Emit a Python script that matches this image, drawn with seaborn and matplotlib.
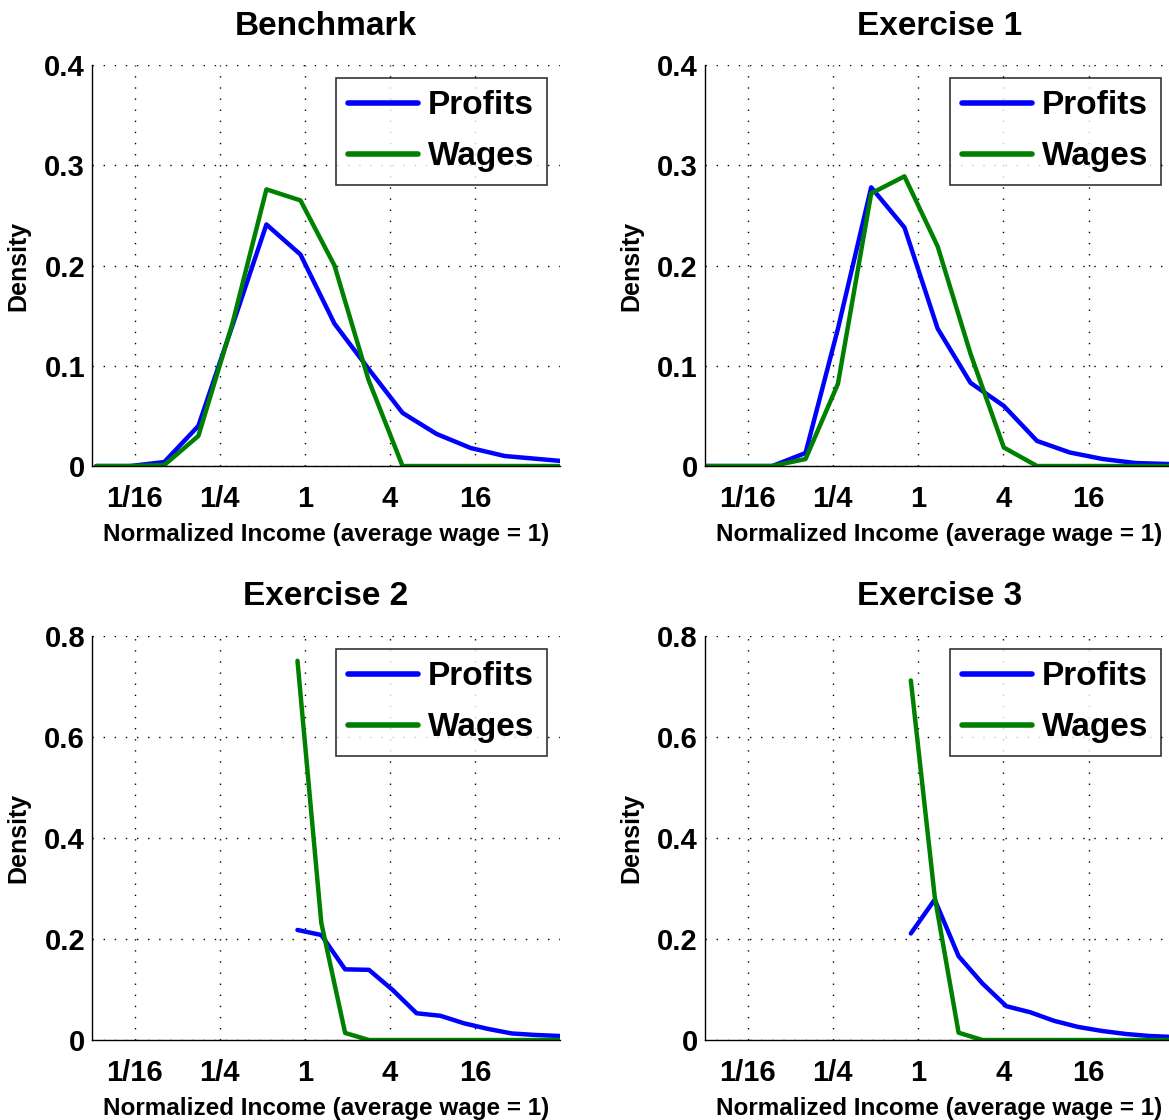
import numpy as np
import matplotlib
matplotlib.use("Agg")
import matplotlib.pyplot as plt
import seaborn as sns
from matplotlib.ticker import NullLocator

# ---------------------------------------------------------------
# Data (x read as log2 of normalized income)
# ---------------------------------------------------------------
bench_log2 = [-4.9, -4.1, -3.3, -2.5, -1.7, -0.9, -0.1, 0.7, 1.5, 2.3, 3.1, 3.9, 4.7, 5.5, 6.3]
bench_profits = [0.0, 0.0, 0.004, 0.040, 0.140, 0.241, 0.211, 0.142, 0.097, 0.053, 0.032, 0.018, 0.010, 0.007, 0.004]
bench_wages = [0.0, 0.0, 0.001, 0.030, 0.142, 0.276, 0.265, 0.200, 0.086, 0.0, 0.0, 0.0, 0.0, 0.0, 0.0]

ex1_log2 = [-4.98, -4.2, -3.42, -2.64, -1.88, -1.1, -0.32, 0.46, 1.23, 2.01, 2.79, 3.56, 4.33, 5.1, 5.88, 6.66]
ex1_profits = [0.0, 0.0, 0.0, 0.013, 0.137, 0.278, 0.238, 0.137, 0.083, 0.060, 0.025, 0.0135, 0.007, 0.003, 0.002, 0.001]
ex1_wages = [0.0, 0.0, 0.0, 0.007, 0.082, 0.272, 0.289, 0.219, 0.112, 0.0185, 0.0, 0.0, 0.0, 0.0, 0.0, 0.0]

ex2_log2 = [-0.17, 0.39, 0.95, 1.51, 2.07, 2.63, 3.19, 3.75, 4.31, 4.87, 5.43, 5.99]
ex2_profits = [0.218, 0.208, 0.140, 0.139, 0.099, 0.053, 0.048, 0.033, 0.022, 0.013, 0.010, 0.008]
ex2_wages = [0.751, 0.232, 0.014, 0.0, 0.0, 0.0, 0.0, 0.0, 0.0, 0.0, 0.0, 0.0]

ex3_log2 = [-0.17, 0.39, 0.95, 1.51, 2.07, 2.63, 3.19, 3.75, 4.31, 4.87, 5.43, 5.99]
ex3_profits = [0.211, 0.278, 0.166, 0.112, 0.067, 0.055, 0.038, 0.026, 0.018, 0.012, 0.008, 0.006]
ex3_wages = [0.712, 0.284, 0.0145, 0.0, 0.0, 0.0, 0.0, 0.0, 0.0, 0.0, 0.0, 0.0]

titles = ["Benchmark", "Exercise 1", "Exercise 2", "Exercise 3"]
x_ticks = [1 / 16, 1 / 4, 1, 4, 16]
x_tick_labels = ["1/16", "1/4", "1", "4", "16"]
y_ticks_top = [0, 0.1, 0.2, 0.3, 0.4]
y_labels_top = ["0", "0.1", "0.2", "0.3", "0.4"]
y_ticks_bottom = [0, 0.2, 0.4, 0.6, 0.8]
y_labels_bottom = ["0", "0.2", "0.4", "0.6", "0.8"]

PROFIT_COLOR = "#0000FF"
WAGE_COLOR = "#008000"

# ---------------------------------------------------------------
# Style
# ---------------------------------------------------------------
sns.set_style("white")
plt.rcParams.update({
    "font.family": ["Liberation Sans", "DejaVu Sans"],
    "font.weight": "bold",
    "axes.labelweight": "bold",
    "axes.titleweight": "bold",
    "text.color": "black",
    "axes.labelcolor": "black",
    "xtick.color": "black",
    "ytick.color": "black",
})

fig = plt.figure(figsize=(11.69, 11.2), dpi=100)
positions = [
    [0.0787, 0.5839, 0.4003, 0.3580],
    [0.6030, 0.5839, 0.4012, 0.3580],
    [0.0787, 0.0714, 0.4003, 0.3607],
    [0.6030, 0.0714, 0.4012, 0.3607],
]
panels = [
    (bench_log2, bench_profits, bench_wages),
    (ex1_log2, ex1_profits, ex1_wages),
    (ex2_log2, ex2_profits, ex2_wages),
    (ex3_log2, ex3_profits, ex3_wages),
]

for i, (pos, (xl, prof, wage)) in enumerate(zip(positions, panels)):
    ax = fig.add_axes(pos)
    income = 2.0 ** np.array(xl)
    sns.lineplot(x=income, y=prof, ax=ax, color=PROFIT_COLOR, linewidth=3.2,
                 label="Profits", sort=False, estimator=None)
    sns.lineplot(x=income, y=wage, ax=ax, color=WAGE_COLOR, linewidth=3.2,
                 label="Wages", sort=False, estimator=None)

    ax.set_xscale("log", base=2)
    ax.set_xlim(2 ** -5, 2 ** 6)
    ax.set_xticks(x_ticks)
    ax.set_xticklabels(x_tick_labels, fontsize=21, fontweight="bold")
    ax.xaxis.set_minor_locator(NullLocator())
    if i < 2:
        ax.set_ylim(0, 0.4)
        ax.set_yticks(y_ticks_top)
        ax.set_yticklabels(y_labels_top, fontsize=21, fontweight="bold")
    else:
        ax.set_ylim(0, 0.8)
        ax.set_yticks(y_ticks_bottom)
        ax.set_yticklabels(y_labels_bottom, fontsize=21, fontweight="bold")

    for side in ["top", "right"]:
        ax.spines[side].set_visible(False)
    for side in ["left", "bottom"]:
        ax.spines[side].set_color("black")
        ax.spines[side].set_linewidth(1.0)

    ax.tick_params(axis="both", direction="in", length=4, width=0.8, color="black")
    ax.tick_params(axis="x", pad=14)
    ax.tick_params(axis="y", pad=5)
    ax.grid(True, color="black", linestyle=(0, (1, 7)), linewidth=1.0)
    ax.set_axisbelow(True)

    ax.set_title(titles[i], fontsize=24, fontweight="bold", pad=22)
    ax.set_xlabel("Normalized Income (average wage = 1)", fontsize=17.5, labelpad=7)
    ax.set_ylabel("Density", fontsize=18, labelpad=10)

    leg = ax.legend(loc="upper right", fontsize=24, frameon=True, fancybox=False,
                    edgecolor="black", handlelength=2.1, handletextpad=0.3,
                    labelspacing=0.6, borderpad=0.38, borderaxespad=0.38)
    leg.get_frame().set_linewidth(1.2)
    for t in leg.get_texts():
        t.set_fontweight("bold")
        t.set_color("black")
    for h in leg.get_lines():
        h.set_linewidth(4)

fig.savefig("out.png", dpi=100)
